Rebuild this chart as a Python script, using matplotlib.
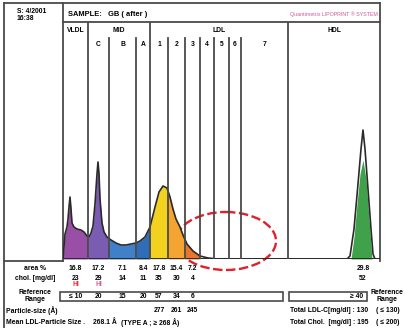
import numpy as np
import matplotlib
matplotlib.use("Agg")
import matplotlib.pyplot as plt
from matplotlib.patches import Ellipse, Rectangle

plt.rcParams["font.family"] = ["Liberation Sans", "DejaVu Sans"]
plt.rcParams["font.weight"] = "bold"

W, H = 406, 328
INK = "#4a4a4a"

# fraction boundaries along the scan (scan units, 0 = start of VLDL band)
EDGES = [0, 25, 46, 73, 87, 105, 122, 137, 151, 166, 178, 225, 317]
MAJOR = [0, 25, 87, 225, 317]
SUB_LABELS = ["C", "B", "A", "1", "2", "3", "4", "5", "6", "7"]
FILL_COLORS = ["#9a4fa6", "#7b5cb3", "#3f80c8", "#2f6db8", "#f2d21e", "#f4a431", "#e9762c"]
HDL_GREEN = "#3fa14a"

# densitometer trace
SCAN_X = [0, 1, 2, 4, 5, 6, 7, 8, 9, 11, 14, 18, 21, 24, 26, 28, 30, 32, 34, 35, 36, 37,
          39, 41, 44, 48, 53, 58, 63, 68, 73, 77, 82, 87, 92, 96, 100, 104, 107, 110, 113,
          117, 120, 124, 130, 137, 145, 155, 284, 287, 291, 295, 298, 300, 302, 305, 308,
          310, 312, 317]
SCAN_Y = [0, 12, 25, 32, 40, 52, 62, 50, 36, 32, 30, 29, 27, 23, 22, 26, 33, 55, 85, 97, 85,
          60, 36, 27, 22, 19, 16, 14, 14, 15, 16, 18, 22, 32, 52, 67, 73, 71, 62, 50, 40,
          32, 24, 15, 8, 3, 1, 0, 0, 3, 30, 75, 110, 129, 110, 70, 30, 5, 0, 0]
HDL_X = [288, 291, 294, 297, 300, 303, 306, 309]
HDL_Y = [0, 22, 55, 85, 99, 80, 40, 0]

AREA_PCT = ["16.8", "17.2", "7.1", "8.4", "17.8", "15.4", "7.2"]
CHOL = ["23", "29", "14", "11", "35", "30", "4"]
CHOL_FLAG = ["HI", "HI", "", "", "", "", ""]
FLAG_COLORS = ["#e0303a", "#e05a8a"]
REF_RANGE = ["≤ 10", "20", "15", "20", "57", "34", "6"]
PARTICLE = ["", "", "", "", "277", "261", "245"]
HDL_VALUES = ["29.8", "52", "≥ 40"]

fig = plt.figure(figsize=(W / 100, H / 100), dpi=100)
lay = fig.add_axes([0, 0, 1, 1])
lay.set_xlim(0, W)
lay.set_ylim(H, 0)
lay.axis("off")

# graph area: x 63..380 px, y 22..259 px
X0, X1, YT, YB = 63, 380, 22, 259
gax = fig.add_axes([X0 / W, (H - YB) / H, (X1 - X0) / W, (YB - YT) / H])
gax.set_xlim(0, X1 - X0)
gax.set_ylim(0, YB - YT)
gax.axis("off")
gax.patch.set_alpha(0)

for i, c in enumerate(FILL_COLORS):
    a, b = EDGES[i], EDGES[i + 1]
    xb = [a] + [x for x in SCAN_X if a < x < b] + [b]
    yb = np.interp(xb, SCAN_X, SCAN_Y)
    gax.fill_between(xb, 0, yb, color=c, lw=0)
gax.fill_between(HDL_X, 0, HDL_Y, color=HDL_GREEN, lw=0)
gax.plot(SCAN_X, SCAN_Y, color="#2a2a2a", lw=1.2)
gax.axhline(0, color="#2a2a2a", lw=1.4)

sub_top = (YB - 38) / (YB - YT)
for e in EDGES[1:-1]:
    gax.axvline(e, ymin=0, ymax=1 if e in MAJOR else sub_top, color=INK, lw=1.3)

# frame
for xs, ys in [([4, X1], [3, 3]), ([4, 4], [3, H]), ([X0, X0], [3, 261]),
               ([4, X0], [261, 261]), ([X0, X1], [YT, YT]), ([X1, X1], [3, 261])]:
    lay.plot(xs, ys, color=INK, lw=1.3)

fs = 4.9
lay.text(17, 11.5, "S: 4/2001", fontsize=fs, va="center")
lay.text(17, 18.5, "16:38", fontsize=fs, va="center")
lay.text(68, 14.5, "SAMPLE:   GB ( after )", fontsize=5.4, va="center")
lay.text(378, 14.5, "Quantimetrix LIPOPRINT \u00ae SYSTEM", fontsize=3.8, color="#d0589a",
         va="center", ha="right", fontweight="normal")

cx = [X0 + (EDGES[i] + EDGES[i + 1]) / 2 for i in range(len(EDGES) - 1)]
lay.text(cx[0], 30, "VLDL", fontsize=fs, ha="center", va="center")
lay.text((X0 + EDGES[1] + X0 + EDGES[4]) / 2, 30, "MID", fontsize=fs, ha="center", va="center")
lay.text((X0 + EDGES[4] + X0 + EDGES[11]) / 2, 30, "LDL", fontsize=fs, ha="center", va="center")
lay.text(cx[11], 30, "HDL", fontsize=fs, ha="center", va="center")
for lab, x in zip(SUB_LABELS, cx[1:11]):
    lay.text(x, 44, lab, fontsize=fs, ha="center", va="center")

# table
lay.text(35, 268, "area %", fontsize=fs, ha="center", va="center")
lay.text(35, 279, "chol. [mg/dl]", fontsize=fs, ha="center", va="center")
lay.text(35, 296, "Reference\nRange", fontsize=fs, ha="center", va="center", linespacing=1.0)
lay.text(6, 311, "Particle-size (\u00c5)", fontsize=fs, va="center")
lay.text(6, 322.5, "Mean LDL-Particle Size .", fontsize=fs, va="center")
lay.text(93, 322.5, "268.1 \u00c5", fontsize=fs, va="center")
lay.text(121, 322.5, "(TYPE A ; \u2265 268 \u00c5)", fontsize=fs, va="center")

for i in range(7):
    lay.text(cx[i], 268, AREA_PCT[i], fontsize=fs, ha="center", va="center")
    lay.text(cx[i], 278.5, CHOL[i], fontsize=fs, ha="center", va="center")
    if CHOL_FLAG[i]:
        lay.text(cx[i], 284.5, CHOL_FLAG[i], fontsize=fs, ha="center", va="center",
                 color=FLAG_COLORS[i])
    lay.text(cx[i], 296.5, REF_RANGE[i], fontsize=fs, ha="center", va="center")
    if PARTICLE[i]:
        lay.text(cx[i], 311, PARTICLE[i], fontsize=fs, ha="center", va="center")

hx = X0 + HDL_X[4]
lay.text(hx, 268, HDL_VALUES[0], fontsize=fs, ha="center", va="center")
lay.text(hx, 278.5, HDL_VALUES[1], fontsize=fs, ha="center", va="center")
lay.text(363, 296.5, HDL_VALUES[2], fontsize=fs, ha="right", va="center")
lay.add_patch(Rectangle((60, 292), 223, 9, fill=False, ec=INK, lw=1.2))
lay.add_patch(Rectangle((289, 292), 78, 9, fill=False, ec=INK, lw=1.2))
lay.text(387, 296, "Reference\nRange", fontsize=fs, ha="center", va="center", linespacing=1.0)

lay.text(290, 311, "Total LDL-C[mg/dl] : 130", fontsize=fs, va="center")
lay.text(290, 322, "Total Chol.  [mg/dl] : 195", fontsize=fs, va="center")
lay.text(388, 311, "( \u2264 130)", fontsize=fs, ha="center", va="center")
lay.text(388, 322, "( \u2264 200)", fontsize=fs, ha="center", va="center")

# hand-drawn red circle
lay.add_patch(Ellipse((226, 241), 100, 58, fill=False, ec="#e0202a", lw=1.7,
                      ls=(0, (4, 1.5))))

fig.savefig("out.png", dpi=100)
